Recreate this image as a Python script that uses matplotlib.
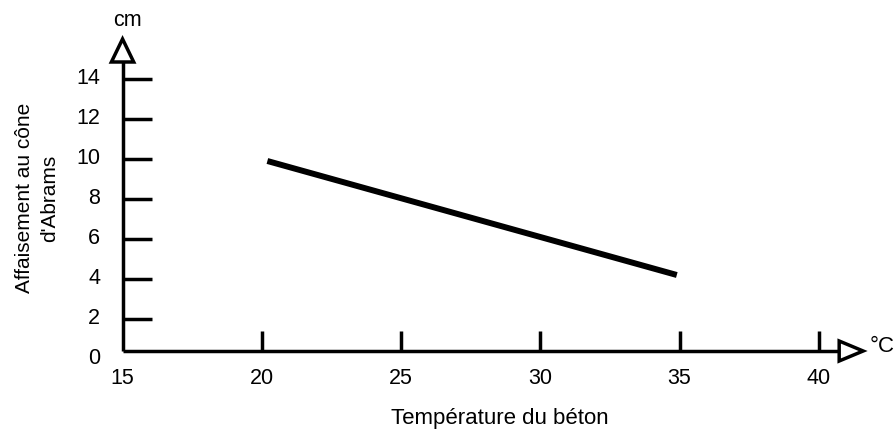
import matplotlib.pyplot as plt
from matplotlib.patches import Polygon

plt.rcParams['font.family'] = ['Liberation Sans', 'DejaVu Sans']

# affaissement (cm) en fonction de la température du béton (°C)
temperature = [20.2, 34.9]
affaissement = [9.9, 4.2]

xticks = [15, 20, 25, 30, 35, 40]
yticks = [0, 2, 4, 6, 8, 10, 12, 14]

fig = plt.figure(figsize=(8.96, 4.3), dpi=100)
ax = fig.add_axes([0, 0, 1, 1])
ax.set_xlim(10.6, 42.77)
ax.set_ylim(-3.55, 17.95)
ax.axis('off')

x0, y0 = 15, 0.4  # origine des axes dessinés
lw = 2.5

# axes avec flèches ouvertes
ax.plot([x0, x0], [y0, 14.85], color='black', lw=lw, solid_capstyle='butt')
ax.plot([x0, 40.73], [y0, y0], color='black', lw=lw, solid_capstyle='butt')
ax.add_patch(Polygon([[x0 - 0.4, 14.85], [x0 + 0.4, 14.85], [x0, 16.0]],
                     closed=True, fc='white', ec='black', lw=lw, joinstyle='miter'))
ax.add_patch(Polygon([[40.73, y0 - 0.5], [40.73, y0 + 0.5], [41.59, y0]],
                     closed=True, fc='white', ec='black', lw=lw, joinstyle='miter'))

# graduations
for v in yticks:
    if v > 0:
        ax.plot([x0, x0 + 1.04], [v, v], color='black', lw=lw, solid_capstyle='butt')
    ax.text(x0 - 0.8, v, str(v), ha='right', va='center', fontsize=15.5)
for v in xticks:
    if v > x0:
        ax.plot([v, v], [y0, y0 + 1.0], color='black', lw=lw, solid_capstyle='butt')
    ax.text(v, -0.95, str(v), ha='center', va='center', fontsize=15.5)

# courbe
ax.plot(temperature, affaissement, color='black', lw=4.3, solid_capstyle='butt')

ax.text(15.18, 16.9, 'cm', ha='center', va='center', fontsize=15.5)
ax.text(41.84, 0.6, '°C', ha='left', va='center', fontsize=16)
ax.text(28.55, -2.98, 'Température du béton', ha='center', va='center', fontsize=16)
ax.text(11.93, 8.05, "Affaisement au cône\nd'Abrams", ha='center', va='center',
        rotation=90, fontsize=15, linespacing=1.35)

fig.savefig('out.png', dpi=100)
